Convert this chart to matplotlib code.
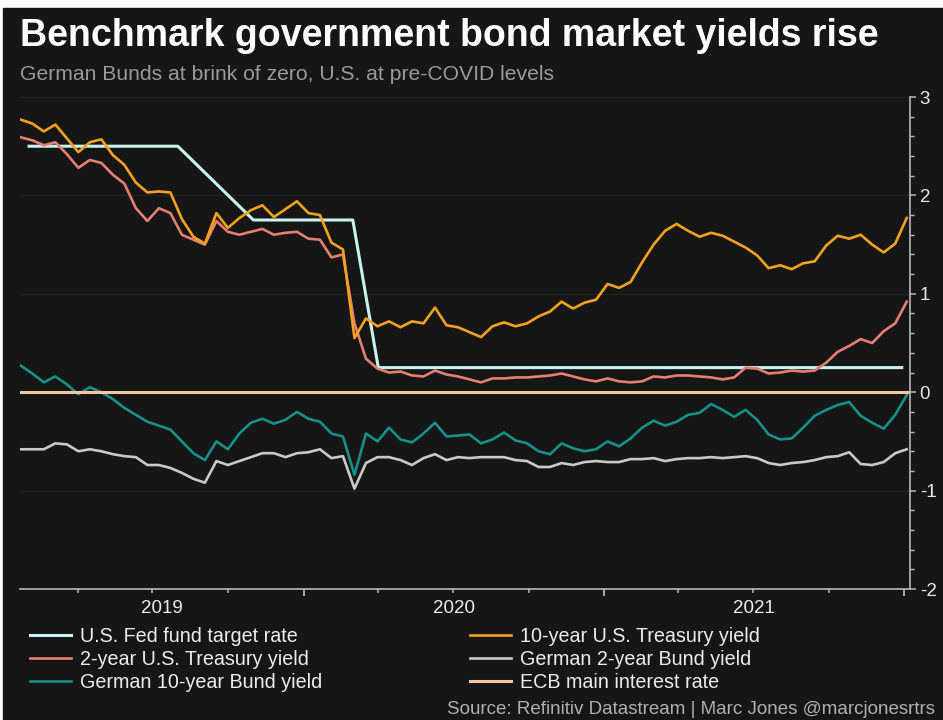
import numpy as np
import pandas as pd
import matplotlib
matplotlib.use("Agg")
import matplotlib.pyplot as plt
import matplotlib.dates as mdates
from matplotlib.patches import Rectangle
from matplotlib.ticker import MultipleLocator

plt.rcParams['font.family'] = ['Liberation Sans', 'DejaVu Sans']
plt.rcParams['axes.unicode_minus'] = False

# fortnightly readings, 2019-01-22 .. 2022-01-04
dates = pd.date_range('2019-01-22', periods=78, freq='14D')

ust10 = [2.77, 2.73, 2.65, 2.72, 2.58, 2.44, 2.54, 2.57, 2.41, 2.31,
         2.13, 2.03, 2.04, 2.03, 1.76, 1.58, 1.51, 1.82, 1.67, 1.77,
         1.85, 1.90, 1.78, 1.86, 1.94, 1.82, 1.80, 1.52, 1.45, 0.55,
         0.75, 0.67, 0.72, 0.66, 0.72, 0.70, 0.86, 0.68, 0.66, 0.61,
         0.56, 0.67, 0.71, 0.67, 0.70, 0.77, 0.82, 0.92, 0.85, 0.91,
         0.94, 1.10, 1.06, 1.12, 1.32, 1.50, 1.64, 1.71, 1.64, 1.58,
         1.62, 1.59, 1.53, 1.47, 1.39, 1.26, 1.29, 1.25, 1.31, 1.33,
         1.49, 1.59, 1.56, 1.60, 1.50, 1.42, 1.51, 1.77]

ust2 = [2.59, 2.56, 2.51, 2.54, 2.42, 2.28, 2.36, 2.33, 2.21, 2.12,
        1.87, 1.74, 1.87, 1.82, 1.60, 1.55, 1.50, 1.74, 1.63, 1.60,
        1.63, 1.66, 1.60, 1.62, 1.63, 1.56, 1.55, 1.37, 1.40, 0.70,
        0.34, 0.24, 0.20, 0.21, 0.17, 0.16, 0.22, 0.18, 0.16, 0.13,
        0.10, 0.14, 0.14, 0.15, 0.15, 0.16, 0.17, 0.19, 0.16, 0.13,
        0.11, 0.14, 0.11, 0.10, 0.11, 0.16, 0.15, 0.17, 0.17, 0.16,
        0.15, 0.13, 0.15, 0.25, 0.24, 0.19, 0.20, 0.22, 0.21, 0.22,
        0.30, 0.41, 0.47, 0.54, 0.50, 0.62, 0.70, 0.92]

bund10 = [0.27, 0.19, 0.10, 0.16, 0.08, -0.02, 0.05, 0.00, -0.07, -0.16,
          -0.23, -0.30, -0.34, -0.38, -0.50, -0.62, -0.69, -0.50, -0.58, -0.42,
          -0.31, -0.27, -0.32, -0.28, -0.20, -0.27, -0.30, -0.42, -0.45, -0.84,
          -0.42, -0.50, -0.36, -0.48, -0.51, -0.42, -0.31, -0.45, -0.44, -0.43,
          -0.52, -0.48, -0.41, -0.49, -0.52, -0.60, -0.63, -0.52, -0.57, -0.60,
          -0.58, -0.50, -0.55, -0.47, -0.36, -0.29, -0.34, -0.30, -0.23, -0.21,
          -0.12, -0.18, -0.25, -0.18, -0.28, -0.43, -0.48, -0.47, -0.36, -0.24,
          -0.18, -0.13, -0.10, -0.24, -0.31, -0.37, -0.23, -0.03]

bund2 = [-0.58, -0.58, -0.58, -0.52, -0.53, -0.60, -0.58, -0.60, -0.63, -0.65,
         -0.66, -0.74, -0.74, -0.77, -0.82, -0.88, -0.92, -0.70, -0.74, -0.70,
         -0.66, -0.62, -0.62, -0.66, -0.62, -0.61, -0.58, -0.67, -0.65, -0.98,
         -0.72, -0.66, -0.66, -0.69, -0.74, -0.67, -0.63, -0.69, -0.66, -0.67,
         -0.66, -0.66, -0.66, -0.69, -0.70, -0.76, -0.76, -0.72, -0.74, -0.71,
         -0.70, -0.71, -0.71, -0.68, -0.68, -0.67, -0.70, -0.68, -0.67, -0.67,
         -0.66, -0.67, -0.66, -0.65, -0.67, -0.72, -0.74, -0.72, -0.71, -0.69,
         -0.66, -0.65, -0.61, -0.73, -0.74, -0.71, -0.62, -0.58]

fed_dates = pd.to_datetime(['2019-02-01', '2019-08-01', '2019-11-01',
                            '2020-03-01', '2020-04-01', '2021-12-29'])
fed = [2.5, 2.5, 1.75, 1.75, 0.25, 0.25]

ecb_dates = pd.to_datetime(['2019-01-21', '2022-01-08'])
ecb = [0.0, 0.0]

years = [2019, 2020, 2021]

BG = '#161616'
C_FED = '#c8f2f2'
C_UST10 = '#f2a21c'
C_UST2 = '#e67f70'
C_B2 = '#c9c9c9'
C_B10 = '#15908a'
C_ECB = '#f3c89e'
AXC = '#b8b8b8'

fig = plt.figure(figsize=(9.43, 7.2), dpi=100, facecolor='white')
fig.patches.append(Rectangle((3 / 943, 0), 1, 1 - 8 / 720, transform=fig.transFigure,
                             color=BG, zorder=-10))

ax = fig.add_axes([20 / 943, 1 - 589 / 720, 890 / 943, 492 / 720])
ax.set_facecolor(BG)

lw = 1.9
l_fed, = ax.plot(fed_dates, fed, color=C_FED, lw=2.2, label='U.S. Fed fund target rate')
l_b2, = ax.plot(dates, bund2, color=C_B2, lw=lw, label='German 2-year Bund yield')
l_b10, = ax.plot(dates, bund10, color=C_B10, lw=lw, label='German 10-year Bund yield')
l_ecb, = ax.plot(ecb_dates, ecb, color=C_ECB, lw=2.2, label='ECB main interest rate')
l_u2, = ax.plot(dates, ust2, color=C_UST2, lw=lw, label='2-year U.S. Treasury yield')
l_u10, = ax.plot(dates, ust10, color=C_UST10, lw=lw, label='10-year U.S. Treasury yield')

x0, x1 = pd.Timestamp('2019-01-21'), pd.Timestamp('2022-01-08')
ax.set_xlim(x0, x1)
ax.set_ylim(-2, 3)

for s in ['left', 'top']:
    ax.spines[s].set_visible(False)
for s in ['right', 'bottom']:
    ax.spines[s].set_color(AXC)
    ax.spines[s].set_linewidth(1.2)

ax.yaxis.tick_right()
ax.yaxis.set_major_locator(MultipleLocator(1))
ax.yaxis.set_minor_locator(MultipleLocator(0.2))
ax.tick_params(axis='y', which='major', length=4, width=1.1, color=AXC,
               labelcolor='#e8e8e8', labelsize=13.5, pad=3)
ax.tick_params(axis='y', which='minor', length=3, width=1, color=AXC)
ax.grid(axis='y', which='major', color='#232323', lw=0.9)

ax.xaxis.set_major_locator(mdates.YearLocator())
ax.xaxis.set_minor_locator(mdates.MonthLocator(bymonth=[4, 7, 10]))
ax.xaxis.set_major_formatter(plt.NullFormatter())
ax.tick_params(axis='x', which='major', length=5, width=1.3, color=AXC)
ax.tick_params(axis='x', which='minor', length=3, width=1.1, color=AXC)

for y in years:
    a = max(pd.Timestamp(f'{y}-01-01'), x0)
    b = min(pd.Timestamp(f'{y + 1}-01-01'), x1)
    mid = a + (b - a) / 2
    ax.text(mid, -0.039, str(y), transform=ax.get_xaxis_transform(),
            ha='center', va='center', color='#ececec', fontsize=13.5)

fig.text(20 / 943, 1 - 46 / 720, 'Benchmark government bond market yields rise',
         color='white', fontsize=27, weight='bold', va='baseline')
fig.text(20 / 943, 1 - 80 / 720, 'German Bunds at brink of zero, U.S. at pre-COVID levels',
         color='#9a9a9a', fontsize=15.2, va='baseline')

leg_kw = dict(loc='upper left', frameon=False, fontsize=14.2, labelcolor='#ececec',
              handlelength=2.1, handletextpad=0.45, labelspacing=0.2, borderpad=0,
              borderaxespad=0)
fig.legend([l_fed, l_u2, l_b10], [h.get_label() for h in [l_fed, l_u2, l_b10]],
           bbox_to_anchor=(30 / 943, 1 - 627 / 720), **leg_kw)
fig.legend([l_u10, l_b2, l_ecb], [h.get_label() for h in [l_u10, l_b2, l_ecb]],
           bbox_to_anchor=(470 / 943, 1 - 627 / 720), **leg_kw)

fig.text(935 / 943, 1 - 709 / 720, 'Source: Refinitiv Datastream | Marc Jones @marcjonesrtrs',
         color='#b0b0b0', fontsize=13.5, ha='right', va='center')

fig.savefig('out.png', dpi=100, facecolor=fig.get_facecolor())
